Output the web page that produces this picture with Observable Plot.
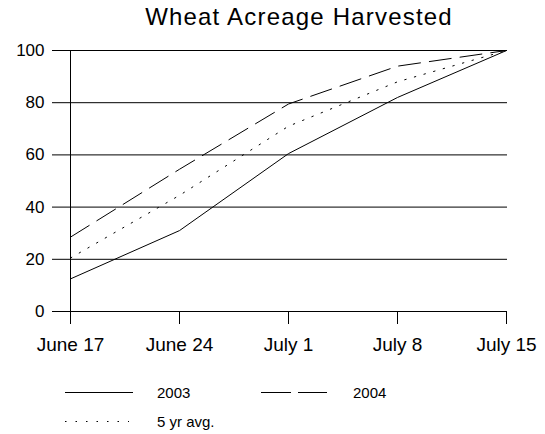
<!DOCTYPE html>
<html><head><meta charset="utf-8">
<script src="https://cdn.jsdelivr.net/npm/d3@7"></script>
<script src="https://cdn.jsdelivr.net/npm/@observablehq/plot@0.6"></script>
<style>
html,body{margin:0;background:#fff;overflow:hidden;}
#wrap{position:relative;width:545px;height:434px;font-family:"Liberation Sans",Arial,sans-serif;color:#000;}
#title{position:absolute;z-index:2;left:299px;top:3px;transform:translateX(-50%);white-space:nowrap;font-size:24px;letter-spacing:1.2px;}
#chart{position:absolute;z-index:1;left:0;top:0;}
#legend{position:absolute;z-index:1;left:0;top:372px;}
</style></head><body>
<div id="wrap"><div id="title">Wheat Acreage Harvested</div><div id="chart"></div><div id="legend"></div></div>
<script>
const weeks = ["June 17", "June 24", "July 1", "July 8", "July 15"];
const y2003 = [12.5, 31, 60.5, 82, 100];
const y2004 = [28.5, 54.5, 79.5, 94, 100];
const y5avg = [20.5, 44.5, 71, 88, 100];
const yTicks = [0, 20, 40, 60, 80, 100];
const seriesNames = ["2003", "2004", "5 yr avg."];

const dashes = {"2003": null, "2004": "22,9", "5 yr avg.": "1.5,8.5"};
const table = [];
[y2003, y2004, y5avg].forEach((vals, i) => vals.forEach((v, j) => table.push({week: weeks[j], value: v, series: seriesNames[i]})));

const plot = Plot.plot({
  width: 545, height: 365,
  marginLeft: 68, marginRight: 38, marginTop: 50, marginBottom: 54,
  style: {fontFamily: '"Liberation Sans", Arial, sans-serif', color: "#000", background: "transparent"},
  x: {type: "point", domain: weeks, padding: 0},
  y: {domain: [0, 100]},
  marks: [
    Plot.ruleY(yTicks, {stroke: "#000", strokeWidth: 1}),
    Plot.ruleX([weeks[0]], {y1: 0, y2: 100, stroke: "#000", strokeWidth: 1}),
    Plot.axisY({ticks: yTicks, tickSize: 16, tickPadding: 8, fontSize: 17, stroke: "#000", strokeOpacity: 1, label: null}),
    Plot.axisX({tickSize: 13, tickPadding: 13, fontSize: 19, stroke: "#000", strokeOpacity: 1, label: null, style: {letterSpacing: "0.4px"}}),
    ...seriesNames.map(s => Plot.line(table.filter(d => d.series === s), {x: "week", y: "value", stroke: "#000", strokeWidth: 1, strokeDasharray: dashes[s]}))
  ]
});
document.getElementById("chart").appendChild(plot);

// legend
const lg = d3.select("#legend").append("svg").attr("width", 545).attr("height", 62)
  .style("font-family", '"Liberation Sans", Arial, sans-serif');
const legendItems = [
  {name: seriesNames[0], x: 65, w: 68, row: 0, dash: null},
  {name: seriesNames[1], x: 261, w: 66, row: 0, dash: "30,7"},
  {name: seriesNames[2], x: 65, w: 64, row: 1, dash: "1.5,9"}
];
legendItems.forEach(it => {
  const y = 20.5 + it.row * 29;
  lg.append("line").attr("x1", it.x).attr("x2", it.x + it.w).attr("y1", y).attr("y2", y)
    .attr("stroke", "#000").attr("stroke-width", 1).attr("stroke-dasharray", it.dash);
  lg.append("text").attr("x", it.x + 92).attr("y", y).attr("dy", "0.35em")
    .attr("font-size", 15).text(it.name);
});
</script>
</body></html>
